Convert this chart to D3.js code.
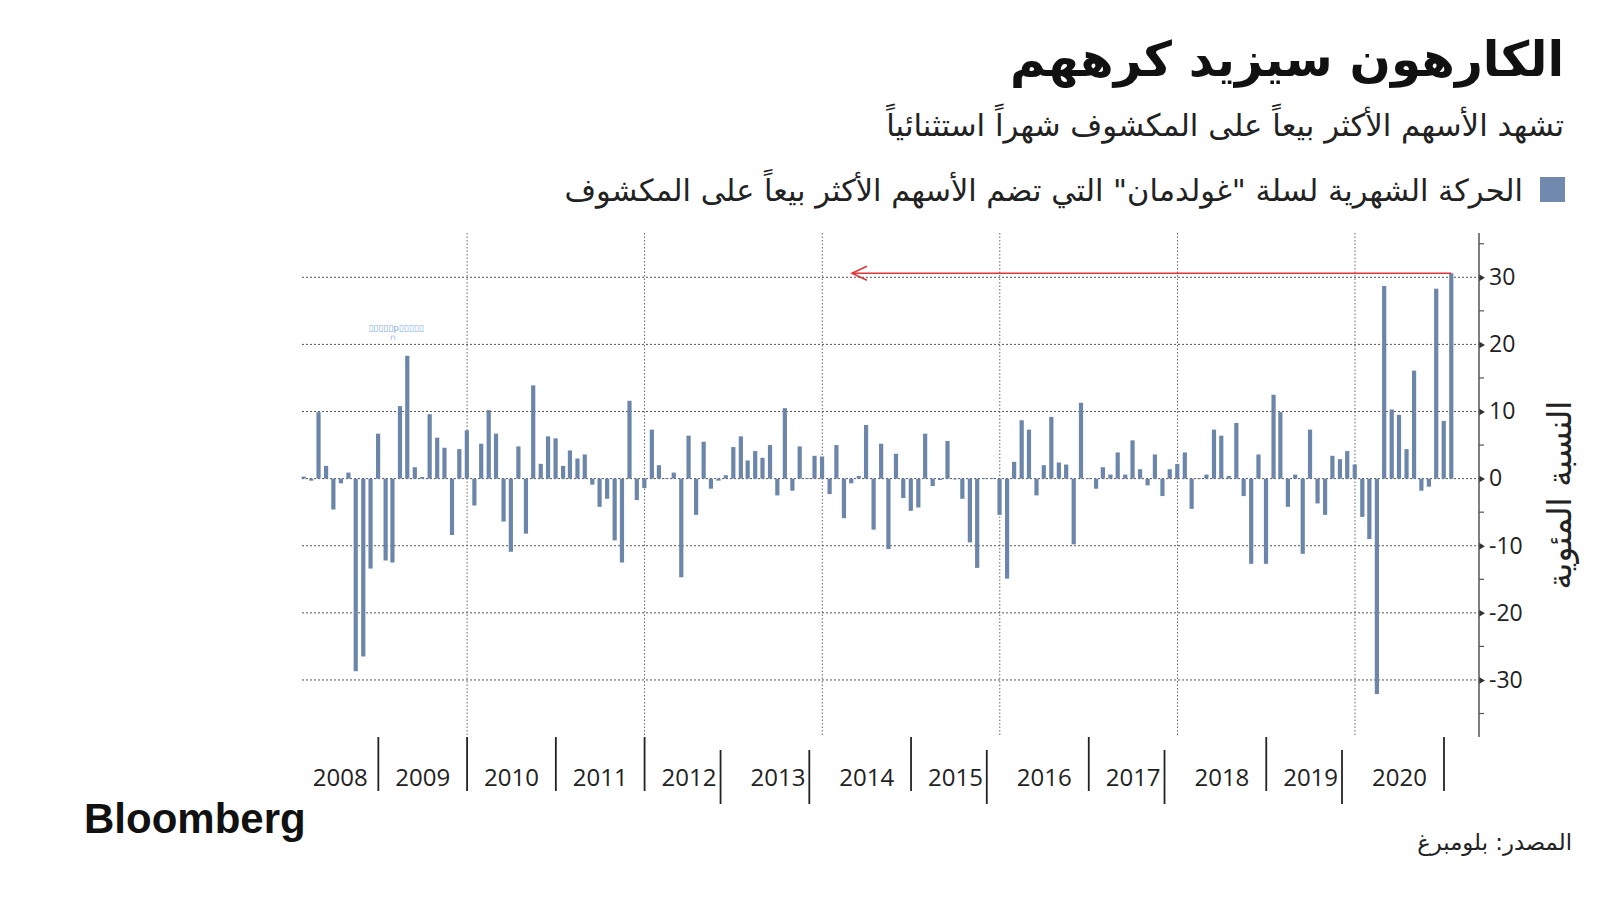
<!DOCTYPE html>
<html><head><meta charset="utf-8">
<script src="https://cdn.jsdelivr.net/npm/d3@7"></script>
<style>body{margin:0;background:#fff}</style>
</head><body>
<svg id="chart" width="1600" height="900"></svg>
<script>
// ---------------- data ----------------
const firstMonth = [2008, 1]; // February 2008 (month index 1)
const monthlyMove = [
  0.3, -0.3, 9.9, 1.9, -4.6, -0.7, 0.9, -28.7, -26.5, -13.4, 6.7,          // 2008 Feb-Dec
  -12.2, -12.5, 10.8, 18.3, 1.7, 0.25, 9.6, 6.1, 4.6, -8.4, 4.4, 7.2,       // 2009
  -4.0, 5.2, 10.2, 6.7, -6.4, -10.9, 4.8, -8.2, 13.9, 2.2, 6.3, 6.0,        // 2010
  1.9, 4.2, 3.0, 3.6, -0.9, -4.2, -3.0, -9.2, -12.5, 11.6, -3.2, -1.4,      // 2011
  7.3, 2.0, 0.1, 0.9, -14.7, 6.4, -5.4, 5.5, -1.5, -0.3, 0.5, 4.7,          // 2012
  6.3, 2.7, 4.1, 3.1, 5.0, -2.5, 10.5, -1.8, 4.8, 0.1, 3.4, 3.3,            // 2013
  -2.3, 5.0, -5.9, -0.7, 0.4, 8.0, -7.6, 5.2, -10.5, 3.7, -2.9, -4.8,       // 2014
  -4.3, 6.7, -1.1, -0.2, 5.6, -0.1, -3.0, -9.5, -13.3, 0.05, 0.1, -5.4,     // 2015
  -14.9, 2.5, 8.7, 7.3, -2.5, 2.0, 9.2, 2.4, 2.1, -9.8, 11.3, 0.05,         // 2016
  -1.5, 1.7, 0.6, 3.9, 0.6, 5.7, 1.4, -1.0, 3.6, -2.6, 1.4, 2.2,            // 2017
  3.9, -4.5, 0.05, 0.6, 7.3, 6.4, 0.4, 8.3, -2.6, -12.7, 3.6, -12.7,        // 2018
  12.5, 9.9, -4.2, 0.6, -11.2, 7.3, -3.7, -5.4, 3.4, 2.9, 4.1, 2.1,         // 2019
  -5.7, -9.0, -32.1, 28.7, 10.3, 9.5, 4.4, 16.1, -1.8, -1.2, 28.3, 8.6,     // 2020
  30.6                                                                      // 2021 Jan
];
const yearLabels = ["2008","2009","2010","2011","2012","2013","2014","2015","2016","2017","2018","2019","2020"];
const yTickValues = [-30, -20, -10, 0, 10, 20, 30];
const yMinorTickValues = [-35, -25, -15, -5, 5, 15, 25, 35];
const gridYears = [2010, 2012, 2014, 2016, 2018, 2020];
const longSeparatorYears = [2013, 2014, 2016, 2018, 2020];
const titleText = "الكارهون سيزيد كرههم";
const subtitleText = "تشهد الأسهم الأكثر بيعاً على المكشوف شهراً استثنائياً";
const legendText = "الحركة الشهرية لسلة \"غولدمان\" التي تضم الأسهم الأكثر بيعاً على المكشوف";
const yAxisTitle = "النسبة المئوية";
const sourceText = "المصدر: بلومبرغ";
const logoText = "Bloomberg";
const arrowTipDate = new Date(2014, 4, 3);

// ---------------- layout ----------------
const barColor = "#6c86aa";
const svg = d3.select("#chart");
svg.append("rect").attr("width", 1600).attr("height", 900).attr("fill", "#fff");

const plotLeft = 302, plotRight = 1479, plotTop = 233, plotBottom = 737;
const x = d3.scaleTime()
  .domain([new Date(2008, 1, 22), new Date(2021, 4, 25)])
  .range([plotLeft, plotRight]);
const y = d3.scaleLinear().domain([-38.5, 36.6]).range([plotBottom, plotTop]);

const data = monthlyMove.map((v, i) => {
  const m = new Date(firstMonth[0], firstMonth[1] + i, 1);
  return { date: d3.timeDay.offset(d3.timeMonth.offset(m, 1), -1), value: v };
});

// horizontal grid
svg.append("g").selectAll("line").data(yTickValues).join("line")
  .attr("x1", plotLeft).attr("x2", plotRight)
  .attr("y1", d => y(d)).attr("y2", d => y(d))
  .attr("stroke", "#555").attr("stroke-width", 1).attr("stroke-dasharray", "2,2");

// vertical grid
svg.append("g").selectAll("line").data(gridYears).join("line")
  .attr("x1", d => x(new Date(d, 0, 1))).attr("x2", d => x(new Date(d, 0, 1)))
  .attr("y1", plotTop).attr("y2", plotBottom)
  .attr("stroke", "#666").attr("stroke-width", 1).attr("stroke-dasharray", "1.5,2");

// bars
const bw = 4.2;
svg.append("g").selectAll("rect").data(data).join("rect")
  .attr("x", d => x(d.date) - bw / 2)
  .attr("width", bw)
  .attr("y", d => y(Math.max(0, d.value)))
  .attr("height", d => Math.max(0.8, Math.abs(y(d.value) - y(0))))
  .attr("fill", barColor);

// red arrow annotation
const last = data[data.length - 1];
const ay = y(last.value);
const red = "#e0353b";
svg.append("line")
  .attr("x1", x(last.date)).attr("x2", x(arrowTipDate))
  .attr("y1", ay).attr("y2", ay)
  .attr("stroke", red).attr("stroke-width", 1.6);
const tip = x(arrowTipDate);
svg.append("path")
  .attr("d", `M${tip + 15},${ay - 7} L${tip},${ay} L${tip + 15},${ay + 7}`)
  .attr("fill", "none").attr("stroke", red).attr("stroke-width", 1.6);

// broken tooltip artefact
svg.append("text").attr("x", 396).attr("y", 331).attr("text-anchor", "middle")
  .attr("font-family", "DejaVu Sans").attr("font-size", 9).attr("fill", "#7eaee6")
  .text("▯▯▯▯▯p▯▯▯▯▯");
svg.append("text").attr("x", 393).attr("y", 340).attr("text-anchor", "middle")
  .attr("font-family", "DejaVu Sans").attr("font-size", 7).attr("fill", "#7eaee6")
  .text("⊓");

// y axis
const axisG = svg.append("g").attr("transform", `translate(${plotRight},0)`);
axisG.call(d3.axisRight(y).tickValues(yTickValues).tickSize(0).tickPadding(10).tickFormat(d => String(d)));
axisG.select(".domain").remove();
axisG.append("line").attr("x1", 0).attr("x2", 0).attr("y1", plotTop).attr("y2", plotBottom)
  .attr("stroke", "#555").attr("stroke-width", 1.5);
axisG.selectAll(".tick text")
  .attr("font-family", "'Open Sans', sans-serif")
  .attr("font-size", 23).attr("fill", "#222");
axisG.selectAll(".tick").append("path")
  .attr("d", "M0,-3.5 L6,0 L0,3.5 Z").attr("fill", "#333");
axisG.append("g").selectAll("line").data(yMinorTickValues).join("line")
  .attr("x1", 0).attr("x2", 5).attr("y1", d => y(d)).attr("y2", d => y(d))
  .attr("stroke", "#555").attr("stroke-width", 1.2);

// year separators and labels
const sepG = svg.append("g");
for (let yr = 2009; yr <= 2021; yr++) {
  const isLong = longSeparatorYears.includes(yr);
  const sx = x(new Date(yr, 0, 1)) + (isLong ? -13 : 0);
  sepG.append("line").attr("x1", sx).attr("x2", sx)
    .attr("y1", isLong ? 750 : 737).attr("y2", isLong ? 804 : 791)
    .attr("stroke", "#222").attr("stroke-width", 1.8);
}
svg.append("g").selectAll("text").data(yearLabels).join("text")
  .attr("x", d => {
    const s = Math.max(x(new Date(+d, 0, 1)), plotLeft);
    const e = x(new Date(+d + 1, 0, 1));
    return (s + e) / 2;
  })
  .attr("y", 786)
  .attr("text-anchor", "middle")
  .attr("font-family", "'Open Sans', sans-serif")
  .attr("font-size", 24).attr("fill", "#222")
  .text(d => d);

// helper to fit text width
function fitWidth(sel, target) {
  const w = sel.node().getComputedTextLength();
  const fs = parseFloat(sel.attr("font-size"));
  sel.attr("font-size", fs * target / w);
}

// title
const t = svg.append("text").attr("x", 1564).attr("y", 76).attr("text-anchor", "end")
  .attr("font-family", "'DejaVu Sans', sans-serif").attr("font-weight", "bold")
  .attr("font-size", 50).attr("fill", "#111").text(titleText);
fitWidth(t, 554);

const st = svg.append("text").attr("x", 1564).attr("y", 136).attr("text-anchor", "end")
  .attr("font-family", "'DejaVu Sans', sans-serif")
  .attr("font-size", 28).attr("fill", "#222").text(subtitleText);
fitWidth(st, 678);

// legend
svg.append("rect").attr("x", 1540).attr("y", 177).attr("width", 25).attr("height", 25).attr("fill", "#7089ad");
const lt = svg.append("text").attr("x", 1523).attr("y", 201).attr("text-anchor", "end")
  .attr("font-family", "'DejaVu Sans', sans-serif")
  .attr("font-size", 26).attr("fill", "#222").text(legendText);
fitWidth(lt, 959);

// y axis title
const yt = svg.append("text")
  .attr("transform", "translate(1559,495) rotate(-90)")
  .attr("text-anchor", "middle").attr("dominant-baseline", "central")
  .attr("font-family", "'DejaVu Sans', sans-serif")
  .attr("font-size", 26).attr("fill", "#222").text(yAxisTitle);
fitWidth(yt, 189);

// logo
svg.append("text").attr("x", 84).attr("y", 833)
  .attr("font-family", "'Liberation Sans', Arial, sans-serif").attr("font-weight", "bold")
  .attr("font-size", 42).attr("letter-spacing", 0).attr("fill", "#111").text(logoText);

// source
const so = svg.append("text").attr("x", 1572).attr("y", 850).attr("text-anchor", "end")
  .attr("font-family", "'DejaVu Sans', sans-serif")
  .attr("font-size", 20).attr("fill", "#222").text(sourceText);
fitWidth(so, 155);
</script>
</body></html>
